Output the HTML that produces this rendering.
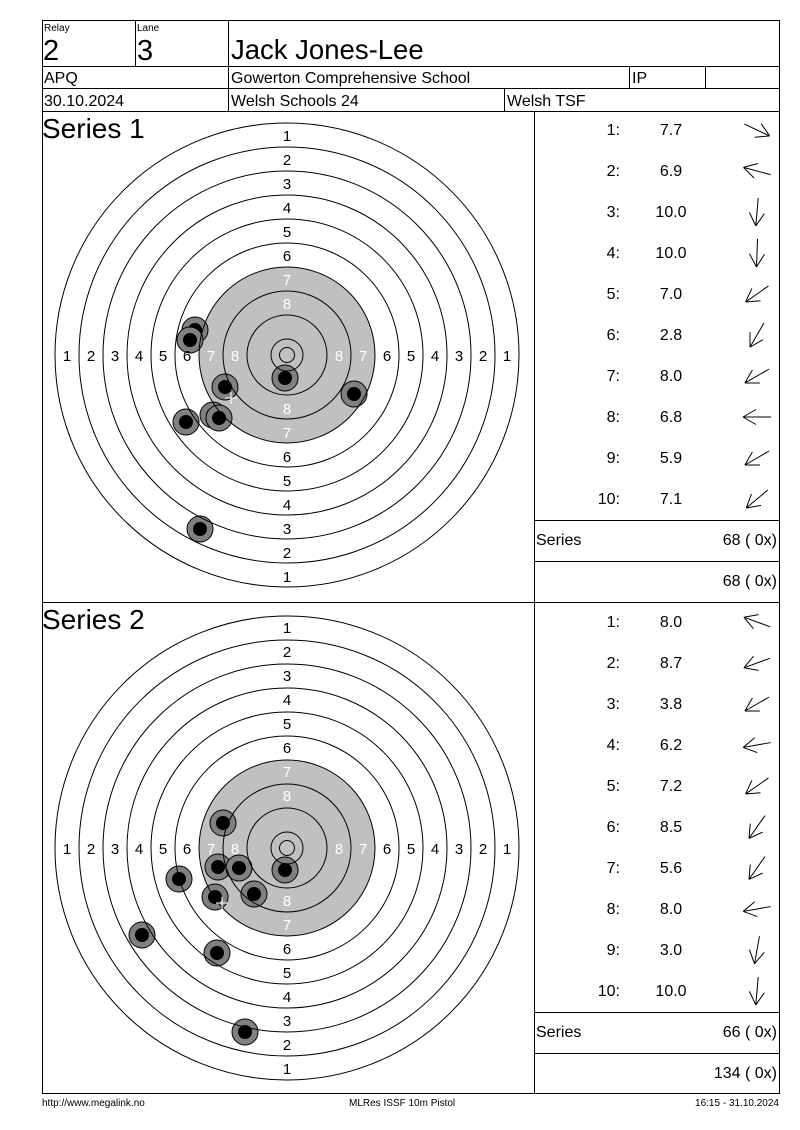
<!DOCTYPE html>
<html><head><meta charset="utf-8"><style>
body{margin:0;background:#fff}
svg{display:block;font-family:"Liberation Sans",sans-serif}
</style></head><body>
<svg id="s" width="800" height="1130" viewBox="0 0 800 1130" xmlns="http://www.w3.org/2000/svg">
<rect width="800" height="1130" fill="#fff"/>
<g id="t1"></g><g id="t2"></g>
<g stroke="#000" stroke-width="1" fill="none" shape-rendering="crispEdges">
<rect x="42.5" y="20.5" width="737" height="1073"/>
<line x1="42" y1="66.5" x2="779" y2="66.5"/>
<line x1="42" y1="88.5" x2="779" y2="88.5"/>
<line x1="42" y1="111.5" x2="779" y2="111.5"/>
<line x1="135.5" y1="20" x2="135.5" y2="66"/>
<line x1="228.5" y1="20" x2="228.5" y2="111"/>
<line x1="629.5" y1="66" x2="629.5" y2="88"/>
<line x1="705.5" y1="66" x2="705.5" y2="88"/>
<line x1="504.5" y1="88" x2="504.5" y2="111"/>
<line x1="534.5" y1="111" x2="534.5" y2="1093"/>
<line x1="42" y1="602.5" x2="779" y2="602.5"/>
<line x1="534" y1="520.5" x2="779" y2="520.5"/>
<line x1="534" y1="561.5" x2="779" y2="561.5"/>
<line x1="534" y1="1012.5" x2="779" y2="1012.5"/>
<line x1="534" y1="1053.5" x2="779" y2="1053.5"/>
</g>
<g fill="#000">
<text x="44" y="31" font-size="10">Relay</text>
<text x="137" y="31" font-size="10">Lane</text>
<text x="43" y="60" font-size="29">2</text>
<text x="137" y="60" font-size="29">3</text>
<text x="231" y="59" font-size="27.5">Jack Jones-Lee</text>
<text x="44" y="83" font-size="16">APQ</text>
<text x="231" y="83" font-size="16">Gowerton Comprehensive School</text>
<text x="632" y="83" font-size="16">IP</text>
<text x="44" y="106" font-size="16">30.10.2024</text>
<text x="231" y="106" font-size="16">Welsh Schools 24</text>
<text x="507" y="106" font-size="16">Welsh TSF</text>
<text x="42" y="138" font-size="28">Series 1</text>
<text x="42" y="629" font-size="28">Series 2</text>
</g>
<g font-size="16" fill="#000" text-anchor="end">
<text x="620" y="135">1:</text><text x="620" y="176">2:</text><text x="620" y="217">3:</text><text x="620" y="258">4:</text><text x="620" y="299">5:</text><text x="620" y="340">6:</text><text x="620" y="381">7:</text><text x="620" y="422">8:</text><text x="620" y="463">9:</text><text x="620" y="504">10:</text>
<text x="620" y="627">1:</text><text x="620" y="668">2:</text><text x="620" y="709">3:</text><text x="620" y="750">4:</text><text x="620" y="791">5:</text><text x="620" y="832">6:</text><text x="620" y="873">7:</text><text x="620" y="914">8:</text><text x="620" y="955">9:</text><text x="620" y="996">10:</text>
<text x="777" y="545">68 ( 0x)</text><text x="777" y="586">68 ( 0x)</text>
<text x="777" y="1037">66 ( 0x)</text><text x="777" y="1078">134 ( 0x)</text>
</g>
<g font-size="16" fill="#000" text-anchor="middle">
<text x="671" y="135">7.7</text><text x="671" y="176">6.9</text><text x="671" y="217">10.0</text><text x="671" y="258">10.0</text><text x="671" y="299">7.0</text><text x="671" y="340">2.8</text><text x="671" y="381">8.0</text><text x="671" y="422">6.8</text><text x="671" y="463">5.9</text><text x="671" y="504">7.1</text>
<text x="671" y="627">8.0</text><text x="671" y="668">8.7</text><text x="671" y="709">3.8</text><text x="671" y="750">6.2</text><text x="671" y="791">7.2</text><text x="671" y="832">8.5</text><text x="671" y="873">5.6</text><text x="671" y="914">8.0</text><text x="671" y="955">3.0</text><text x="671" y="996">10.0</text>
</g>
<text x="536" y="545" font-size="16">Series</text>
<text x="536" y="1037" font-size="16">Series</text>
<g font-size="10" fill="#000">
<text x="42" y="1106">http://www.megalink.no</text>
<text x="349" y="1106">MLRes ISSF 10m Pistol</text>
<text x="779" y="1106" text-anchor="end">16:15 - 31.10.2024</text>
</g>
<g id="arr" stroke="#000" stroke-width="1" fill="none"></g>
<g font-size="15" text-anchor="middle" fill="#000">
<text x="287" y="141">1</text><text x="287" y="165">2</text><text x="287" y="189">3</text><text x="287" y="213">4</text><text x="287" y="237">5</text><text x="287" y="261">6</text>
<text x="287" y="462">6</text><text x="287" y="486">5</text><text x="287" y="510">4</text><text x="287" y="534">3</text><text x="287" y="558">2</text><text x="287" y="582">1</text>
<text x="67" y="361">1</text><text x="91" y="361">2</text><text x="115" y="361">3</text><text x="139" y="361">4</text><text x="163" y="361">5</text><text x="187" y="361">6</text>
<text x="507" y="361">1</text><text x="483" y="361">2</text><text x="459" y="361">3</text><text x="435" y="361">4</text><text x="411" y="361">5</text><text x="387" y="361">6</text>
<text x="287" y="633">1</text><text x="287" y="657">2</text><text x="287" y="681">3</text><text x="287" y="705">4</text><text x="287" y="729">5</text><text x="287" y="753">6</text>
<text x="287" y="954">6</text><text x="287" y="978">5</text><text x="287" y="1002">4</text><text x="287" y="1026">3</text><text x="287" y="1050">2</text><text x="287" y="1074">1</text>
<text x="67" y="854">1</text><text x="91" y="854">2</text><text x="115" y="854">3</text><text x="139" y="854">4</text><text x="163" y="854">5</text><text x="187" y="854">6</text>
<text x="507" y="854">1</text><text x="483" y="854">2</text><text x="459" y="854">3</text><text x="435" y="854">4</text><text x="411" y="854">5</text><text x="387" y="854">6</text>
</g>
<g font-size="15" text-anchor="middle" fill="#fff">
<text x="287" y="285">7</text><text x="287" y="309">8</text><text x="287" y="414">8</text><text x="287" y="438">7</text>
<text x="211" y="361">7</text><text x="235" y="361">8</text><text x="339" y="361">8</text><text x="363" y="361">7</text>
<text x="287" y="777">7</text><text x="287" y="801">8</text><text x="287" y="906">8</text><text x="287" y="930">7</text>
<text x="211" y="854">7</text><text x="235" y="854">8</text><text x="339" y="854">8</text><text x="363" y="854">7</text>
</g>
<script>
var NS="http://www.w3.org/2000/svg";
function el(p,n,a){var e=document.createElementNS(NS,n);for(var k in a)e.setAttribute(k,a[k]);p.appendChild(e);return e;}
function target(g,cx,cy,shots,cross){
 el(g,"circle",{cx:cx,cy:cy,r:88,fill:"#c0c0c0"});
 shots.forEach(function(s){el(g,"circle",{cx:s[0],cy:s[1],r:13,fill:"#808080",stroke:"#000","stroke-width":1});
  el(g,"circle",{cx:s[0],cy:s[1],r:7,fill:"#000"});});
 for(var k=1;k<=10;k++){el(g,"circle",{cx:cx,cy:cy,r:232-(k-1)*24,fill:"none",stroke:"#000","stroke-width":1});}
 el(g,"circle",{cx:cx,cy:cy,r:7.5,fill:"none",stroke:"#000","stroke-width":1});
 el(g,"path",{d:"M"+(cross[0]-6)+" "+cross[1]+"h12M"+cross[0]+" "+(cross[1]-6)+"v12",stroke:"#fff","stroke-width":1});
}
target(document.getElementById("t1"),287,355,[[195,330],[190,340],[225,387],[285,378],[354,394],[186,422],[213,415],[219,418],[200,529]],[231,398]);
target(document.getElementById("t2"),287,848,[[223,823],[218,867],[239,868],[179,879],[254,894],[215,897],[285,870],[142,935],[217,953],[245,1032]],[222,903]);
var A=document.getElementById("arr");
function arrow(cx,cy,deg){var a=deg*Math.PI/180,dx=Math.cos(a),dy=Math.sin(a);
 var hx=cx+dx*14,hy=cy+dy*14,tx=cx-dx*14,ty=cy-dy*14;
 var d="M"+tx+" "+ty+"L"+hx+" "+hy;
 [30,-30].forEach(function(o){var b=a+Math.PI+o*Math.PI/180;d+="M"+hx+" "+hy+"L"+(hx+Math.cos(b)*15)+" "+(hy+Math.sin(b)*15);});
 el(A,"path",{d:d});}
var s1=[25,195,95,92,145,120,150,180,150,140],s2=[200,160,150,170,145,125,125,170,100,95];
s1.forEach(function(d,i){arrow(757,130+41*i,d);});
s2.forEach(function(d,i){arrow(757,622+41*i,d);});
</script>
</svg>
</body></html>
